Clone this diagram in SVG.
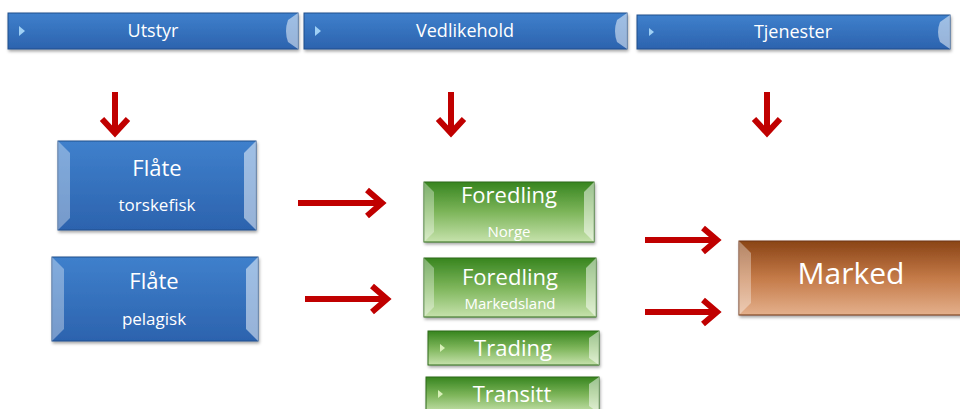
<svg xmlns="http://www.w3.org/2000/svg" width="960" height="409" viewBox="0 0 960 409">
<defs>
  <linearGradient id="gBlue" x1="0" y1="0" x2="0" y2="1">
    <stop offset="0" stop-color="#3F80CC"/>
    <stop offset="1" stop-color="#2C63AE"/>
  </linearGradient>
  <linearGradient id="gGreen" x1="0" y1="0" x2="0" y2="1">
    <stop offset="0" stop-color="#37851F"/>
    <stop offset="0.5" stop-color="#7DB55A"/>
    <stop offset="1" stop-color="#C6E2AC"/>
  </linearGradient>
  <linearGradient id="gBrown" x1="0" y1="0" x2="0" y2="1">
    <stop offset="0" stop-color="#8A4416"/>
    <stop offset="0.5" stop-color="#C47A48"/>
    <stop offset="1" stop-color="#E4B08C"/>
  </linearGradient>
  <filter id="sh" x="-5%" y="-10%" width="112%" height="130%">
    <feDropShadow dx="1" dy="2" stdDeviation="1.5" flood-color="#000" flood-opacity="0.35"/>
  </filter>
</defs>
<style>
  .txt{font-family:"Open Sans","Noto Sans","Liberation Sans",sans-serif;fill:#fff;text-anchor:middle}
  .hdr{font-size:18px}
  .big{font-size:22px}
  .sm{font-size:17px}
  .xs{font-size:15px}
  .bevL{fill:#fff;fill-opacity:0.35}
  .bevR{fill:#fff;fill-opacity:0.5}
  .tri{fill:#9FD0F5}
  .triG{fill:#D8F0B8}
  .arr{fill:none;stroke:#C00000;stroke-width:6;stroke-linecap:butt;stroke-linejoin:miter}
  .frame{stroke:#1F4E8C;stroke-width:1}
</style>

<g id="hdr-utstyr">
  <rect x="8" y="13" width="290" height="36" fill="url(#gBlue)" filter="url(#sh)" class="frame"/>
  <polygon class="tri" points="19,26 25,31 19,36"/>
  <path class="bevR" d="M298,13 L288,20 Q284,31 288,42 L298,49 Z"/>
  <text class="txt hdr" x="153" y="37">Utstyr</text>
</g>
<g id="hdr-vedlikehold">
  <rect x="304" y="13" width="323" height="36" fill="url(#gBlue)" filter="url(#sh)" class="frame"/>
  <polygon class="tri" points="315,26 321,31 315,36"/>
  <path class="bevR" d="M627,13 L617,20 Q613,31 617,42 L627,49 Z"/>
  <text class="txt hdr" x="465" y="37">Vedlikehold</text>
</g>
<g id="hdr-tjenester">
  <rect x="637" y="15" width="313" height="34" fill="url(#gBlue)" filter="url(#sh)" class="frame"/>
  <polygon class="tri" points="649,28 654,32 649,36"/>
  <path class="bevR" d="M950,15 L940,22 Q936,32 940,42 L950,49 Z"/>
  <text class="txt hdr" x="793" y="38">Tjenester</text>
</g>

<g id="flate-torskefisk">
  <rect x="58" y="141" width="198" height="89" fill="url(#gBlue)" filter="url(#sh)" class="frame"/>
  <polygon class="bevL" points="58,141 70,153 70,218 58,230"/>
  <polygon class="bevR" points="256,141 244,153 244,218 256,230"/>
  <text class="txt big" x="157" y="176">Flåte</text>
  <text class="txt sm" x="157" y="211">torskefisk</text>
</g>
<g id="flate-pelagisk">
  <rect x="52" y="257" width="206" height="84" fill="url(#gBlue)" filter="url(#sh)" class="frame"/>
  <polygon class="bevL" points="52,257 64,269 64,329 52,341"/>
  <polygon class="bevR" points="258,257 246,269 246,329 258,341"/>
  <text class="txt big" x="154" y="289">Flåte</text>
  <text class="txt sm" x="154" y="325">pelagisk</text>
</g>

<g id="foredling-norge">
  <rect x="424" y="182" width="170" height="60" fill="url(#gGreen)" filter="url(#sh)" stroke="#2E6B1A" stroke-width="1"/>
  <polygon class="bevL" points="424,182 434,192 434,232 424,242"/>
  <polygon class="bevR" points="594,182 584,192 584,232 594,242"/>
  <text class="txt big" x="509" y="203">Foredling</text>
  <text class="txt xs" x="509" y="237">Norge</text>
</g>
<g id="foredling-markedsland">
  <rect x="424" y="258" width="172" height="59" fill="url(#gGreen)" filter="url(#sh)" stroke="#2E6B1A" stroke-width="1"/>
  <polygon class="bevL" points="424,258 434,268 434,307 424,317"/>
  <polygon class="bevR" points="596,258 586,268 586,307 596,317"/>
  <text class="txt big" x="510" y="285">Foredling</text>
  <text class="txt xs" x="510" y="309">Markedsland</text>
</g>
<g id="trading">
  <rect x="428" y="331" width="171" height="34" fill="url(#gGreen)" filter="url(#sh)" stroke="#2E6B1A" stroke-width="1"/>
  <polygon class="triG" points="440,344 445,348 440,352"/>
  <polygon class="bevR" points="599,331 589,338 589,358 599,365"/>
  <text class="txt big" x="513" y="356">Trading</text>
</g>
<g id="transitt">
  <rect x="426" y="377" width="173" height="36" fill="url(#gGreen)" filter="url(#sh)" stroke="#2E6B1A" stroke-width="1"/>
  <polygon class="triG" points="438,390 443,394 438,398"/>
  <polygon class="bevR" points="599,377 589,384 589,406 599,413"/>
  <text class="txt big" x="512" y="402">Transitt</text>
</g>

<g id="marked">
  <rect x="739" y="241" width="225" height="74" fill="url(#gBrown)" filter="url(#sh)" stroke="#6E3510" stroke-width="1"/>
  <polygon class="bevL" points="739,241 751,253 751,303 739,315"/>
  <text class="txt" style="font-size:30px" x="851" y="284">Marked</text>
</g>

<g id="connectors">
  <path class="arr" d="M115,92 V131 M102,119 L115,133 L128,119"/>
  <path class="arr" d="M451,92 V131 M438,119 L451,133 L464,119"/>
  <path class="arr" d="M767,92 V131 M754,119 L767,133 L780,119"/>
  <path class="arr" d="M298,203 H380 M367,190 L382,203 L367,216"/>
  <path class="arr" d="M305,299 H385 M372,286 L387,299 L372,312"/>
  <path class="arr" d="M645,240 H715 M703,228 L717,240 L703,252"/>
  <path class="arr" d="M645,312 H715 M703,300 L717,312 L703,324"/>
</g>
</svg>
